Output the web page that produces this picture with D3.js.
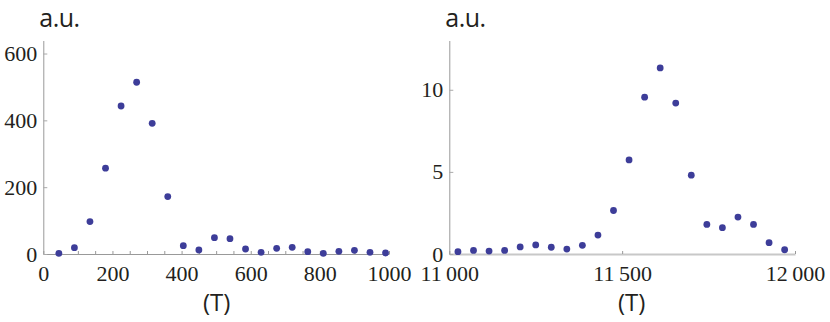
<!DOCTYPE html>
<html>
<head>
    <meta charset="UTF-8">
    <script src="https://d3js.org/d3.v7.min.js"></script>
    <style type="text/css">
        body { margin: 0; background: #fff; }
        .lab { font-family: "Open Sans", sans-serif; font-size: 24px; fill: #231f20; }
        .lab.au { font-size: 25px; letter-spacing: -0.5px; }
        .axis text { font-family: "Liberation Serif", "Times New Roman", Tinos, "DejaVu Serif", serif; font-size: 22px; fill: #231f20; }
    </style>
</head>
<body>
<script type="text/javascript">
    // left panel data (time steps of 45)
    var leftX = d3.range(1, 23).map(function (k) { return 45 * k; });
    var leftY = [2, 19, 97, 257, 443, 514, 391, 172, 25, 12, 49, 46, 15, 5, 17, 20, 7, 2, 8, 11, 5, 3];
    var leftYTicks = [0, 200, 400, 600];
    var leftXTicks = [0, 200, 400, 600, 800, 1000];

    // right panel data
    var rightX = d3.range(0, 22).map(function (k) { return 11025 + 45 * k; });
    var rightY = [0.14, 0.22, 0.18, 0.22, 0.43, 0.55, 0.41, 0.30, 0.53, 1.15, 2.65, 5.73,
        9.55, 11.33, 9.19, 4.80, 1.80, 1.60, 2.25, 1.80, 0.69, 0.26];
    var rightYTicks = [0, 5, 10];
    var rightXTicks = [11000, 11500, 12000];

    var dotColor = "#3d3d99";
    var svg = d3.select("body").append("svg")
        .attr("width", 830)
        .attr("height", 322);

    function fmt(d) {
        var s = String(d);
        if (s.length > 4) s = s.slice(0, s.length - 3) + "\u2009" + s.slice(-3);
        return s;
    }

    function panel(opt) {
        var x = d3.scaleLinear().domain(opt.xDomain).range([opt.x0, opt.x1]);
        var y = d3.scaleLinear().domain(opt.yDomain).range([254, 40.5]);
        var g = svg.append("g");

        // x axis: minor ticks, labels only on the major ones
        var xa = g.append("g")
            .attr("class", "axis")
            .attr("transform", "translate(0,254)")
            .call(d3.axisBottom(x)
                .tickValues(opt.xMinor)
                .tickSizeInner(-3)
                .tickSizeOuter(0)
                .tickPadding(11)
                .tickFormat(function (d) { return opt.xTicks.indexOf(d) >= 0 ? fmt(d) : ""; }));
        xa.select(".domain").attr("stroke", opt.xAxisColor).attr("stroke-width", opt.xAxisWidth);
        xa.selectAll(".tick line").attr("stroke", "#999");

        var ya = g.append("g")
            .attr("class", "axis")
            .attr("transform", "translate(" + opt.x0 + ",0)")
            .call(d3.axisLeft(y)
                .tickValues(opt.yTicks)
                .tickSizeInner(-4)
                .tickSizeOuter(0)
                .tickPadding(6)
                .tickFormat(fmt));
        ya.select(".domain").attr("stroke", "#999");
        ya.selectAll(".tick line").attr("stroke", "#aaa");

        // drop the axis defaults so the stylesheet font wins
        g.selectAll(".axis").attr("font-family", null).attr("font-size", null);
        g.selectAll(".axis text").attr("fill", null);

        g.selectAll("circle")
            .data(opt.xs)
            .enter().append("circle")
            .attr("cx", function (d) { return x(d); })
            .attr("cy", function (d, i) { return y(opt.ys[i]); })
            .attr("r", 3.4)
            .attr("fill", dotColor);

        g.append("text").attr("class", "lab au")
            .attr("x", opt.x0 - 4)
            .attr("y", 27)
            .text("a.u.");

        g.append("text").attr("class", "lab")
            .attr("x", opt.off + 216.7)
            .attr("y", 311)
            .attr("text-anchor", "middle")
            .text("(T)");
    }

    panel({
        off: 0, x0: 43.3, x1: 389,
        xDomain: [0, 1000], yDomain: [0, 639],
        xs: leftX, ys: leftY,
        xTicks: leftXTicks, xMinor: d3.range(0, 1001, 50),
        yTicks: leftYTicks,
        xAxisColor: "#999", xAxisWidth: 1
    });

    panel({
        off: 415, x0: 449.3, x1: 795,
        xDomain: [11000, 12000], yDomain: [0, 13],
        xs: rightX, ys: rightY,
        xTicks: rightXTicks, xMinor: [11000, 11500, 12000],
        yTicks: rightYTicks,
        xAxisColor: "#c8c8c8", xAxisWidth: 2.2
    });
</script>
</body>
</html>
